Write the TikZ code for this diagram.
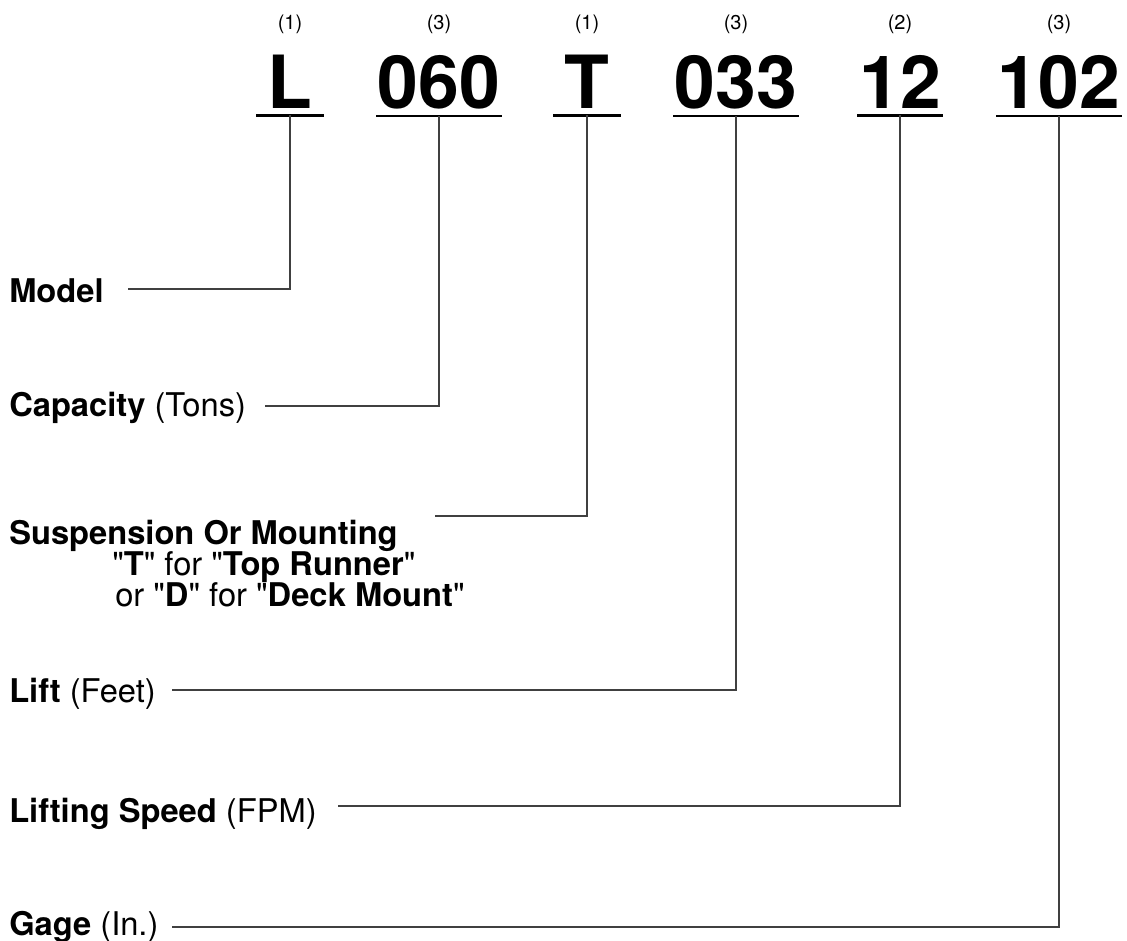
\documentclass[tikz,border=0pt]{standalone}
\usepackage{fontspec}
\setmainfont{TeX Gyre Heros}
\usepackage{tikz}
\usetikzlibrary{positioning}

\begin{document}
\begin{tikzpicture}[x=0.75pt, y=-0.75pt,
    codebox/.style={anchor=base, inner xsep=0pt, inner ysep=4.5pt, font=\fontsize{55}{60}\selectfont\bfseries},
    countlbl/.style={anchor=base, inner sep=0pt, font=\fontsize{15}{17}\selectfont},
    fieldlbl/.style={anchor=base west, inner sep=0pt, font=\fontsize{24.5}{29}\selectfont},
    uline/.style={line width=2pt},
    lead/.style={line width=0.9pt, draw=black!75}
]
    \useasboundingbox (0,0) rectangle (1127,941);

    % code groups
    \node[codebox, minimum width=50pt] (c1) at (290, 109) {L};
    \node[codebox, minimum width=94pt] (c2) at (439, 109) {060};
    \node[codebox, minimum width=50pt] (c3) at (587, 109) {T};
    \node[codebox, minimum width=94pt] (c4) at (736, 109) {033};
    \node[codebox, minimum width=64pt] (c5) at (900, 109) {12};
    \node[codebox, minimum width=94pt] (c6) at (1059, 109) {102};

    \foreach \i in {1,...,6}
        \draw[uline] (c\i.south west) -- (c\i.south east);

    % digit counts
    \node[countlbl] (k1) at (290, 30) {(1)};
    \node[countlbl] (k2) at (439, 30) {(3)};
    \node[countlbl] (k3) at (587, 30) {(1)};
    \node[countlbl] (k4) at (736, 30) {(3)};
    \node[countlbl] (k5) at (900, 30) {(2)};
    \node[countlbl] (k6) at (1059, 30) {(3)};

    % field labels
    \node[fieldlbl] (f1) at (9, 302) {\textbf{Model}};
    \node[fieldlbl] (f2) at (9, 416) {\textbf{Capacity} (Tons)};
    \node[fieldlbl] (f3) at (9, 544) {\textbf{Suspension Or Mounting}};
    \node[fieldlbl] (f3a) at (112, 575) {\textquotedbl\textbf{T}\textquotedbl{} for \textquotedbl\textbf{Top Runner}\textquotedbl};
    \node[fieldlbl] (f3b) at (115, 606) {or \textquotedbl\textbf{D}\textquotedbl{} for \textquotedbl\textbf{Deck Mount}\textquotedbl};
    \node[fieldlbl] (f4) at (9, 702) {\textbf{Lift} (Feet)};
    \node[fieldlbl] (f5) at (9, 822) {\textbf{Lifting Speed} (FPM)};
    \node[fieldlbl] (f6) at (9, 935) {\textbf{Gage} (In.)};

    % leader starts
    \coordinate (p1) at (128, 289);
    \coordinate (p2) at (265, 406);
    \coordinate (p3) at (435, 516);
    \coordinate (p4) at (172, 690);
    \coordinate (p5) at (338, 806);
    \coordinate (p6) at (172, 927);

    \foreach \i in {1,...,6}
        \draw[lead] (p\i) -| (c\i.south);
\end{tikzpicture}
\end{document}
